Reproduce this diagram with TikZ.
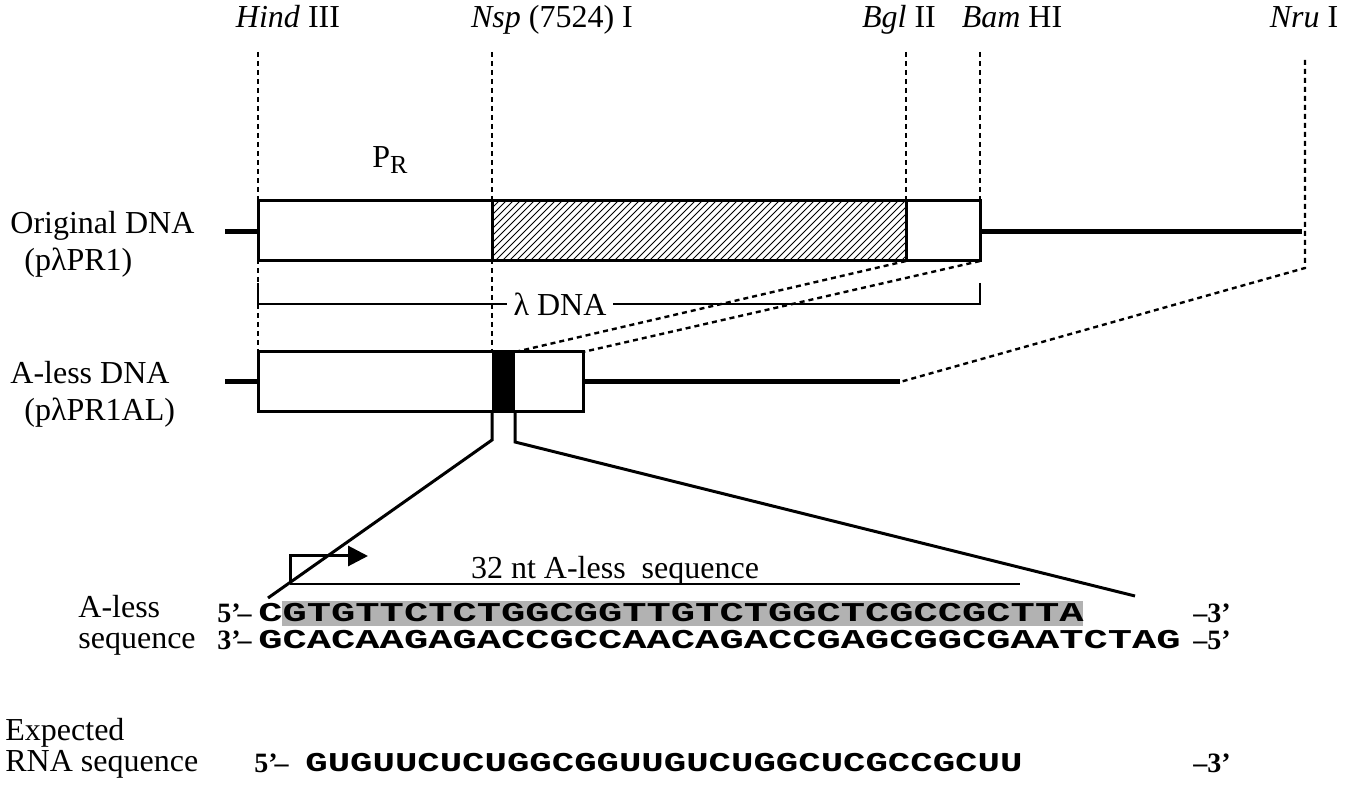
\documentclass[tikz,border=0pt]{standalone}
\usepackage{fontspec}
\setmainfont{Liberation Serif}
\newfontfamily\seqfont{Liberation Mono}
\usepackage{graphicx}
\usetikzlibrary{arrows.meta, positioning}

\tikzset{
    lab/.style={font=\fontsize{16}{18.5}\selectfont, inner sep=0pt},
    site/.style={lab, anchor=base},
    cut/.style={line width=1.2pt, dash pattern=on 2.5pt off 2pt},
    box/.style={draw, line width=1.5pt, fill=white},
    dna/.style={line width=2.5pt},
    zoomline/.style={line width=1.5pt},
    seq/.style={font=\fontsize{16}{16}\seqfont\bfseries, inner sep=0pt, anchor=west},
    ends/.style={font=\fontsize{14}{14}\selectfont\bfseries, inner sep=0pt, anchor=west},
}

\begin{document}
\begin{tikzpicture}[x=0.5pt, y=-0.5pt]
    \useasboundingbox (0,0) rectangle (1354,785);
    % restriction sites
    \node[site] (hind) at (288,28) {\textit{Hind} III};
    \node[site] (nsp) at (552,28) {\textit{Nsp} (7524) I};
    \node[site] (bgl) at (899,28) {\textit{Bgl} II};
    \node[site] (bam) at (1012,28) {\textit{Bam} HI};
    \node[site] (nru) at (1304,28) {\textit{Nru} I};
    \coordinate (hindT) at (258,52); \coordinate (hindB) at (258,352);
    \coordinate (nspT) at (492,52); \coordinate (nspB) at (492,352);
    \coordinate (bglT) at (906,52); \coordinate (bglB) at (906,261);
    \coordinate (bamT) at (980,52); \coordinate (bamB) at (980,261);
    \coordinate (nruT) at (1305,60); \coordinate (nruC) at (1305,268);
    \coordinate (blkT) at (515,352); \coordinate (alTR) at (583,352);
    \coordinate (alE) at (900,382);
    \draw[cut] (hindT) -- (hindB);
    \draw[cut] (nspT) -- (nspB);
    \draw[cut] (bglT) -- (bglB);
    \draw[cut] (bamT) -- (bamB);
    \draw[cut] (nruT) -- (nruC) -- (alE);
    \draw[cut] (bglB) -- (blkT);
    \draw[cut] (bamB) -- (alTR);

    % original DNA
    \draw[dna] (225,232) -- (258,232);
    \draw[dna] (980,232) -- (1302,232);
    \draw[box] (258,201) rectangle (980,261);
    \begin{scope}
        \clip (492,201) rectangle (906,261);
        \foreach \x in {432,439,...,906}
        \draw[line width=0.5pt] (\x,261) -- ++(60,-60);
    \end{scope}
    \draw[line width=1.5pt] (258,201) rectangle (980,261);
    \draw[line width=1.5pt] (492,201) -- (492,261) (906,201) -- (906,261);
    \node[lab] (pr) at (390,160) {P\raisebox{-0.35ex}{\fontsize{13}{13}\selectfont R}};
    \node[lab, align=left, anchor=west] (orig) at (10,244) {Original DNA\\\hspace*{7pt}(pλPR1)};

    % lambda DNA
    \node[lab, inner sep=3pt] (lam) at (560,304) {λ DNA};
    \draw[line width=1.2pt] (258,283) |- (lam.west);
    \draw[line width=1.2pt] (980,283) |- (lam.east);

    % A-less DNA
    \draw[dna] (225,382) -- (258,382);
    \draw[dna] (583,382) -- (alE);
    \draw[box] (258,352) rectangle (583,412);
    \fill (492,352) rectangle (515,412);
    \node[lab, align=left, anchor=west] (alab) at (10,394) {A-less DNA\\\hspace*{7pt}(pλPR1AL)};

    % blow-up
    \coordinate (tkL) at (492,440); \coordinate (tkR) at (515,442);
    \coordinate (zL) at (268,598); \coordinate (zR) at (1135,596);
    \draw[zoomline] (492,412) -- (tkL) -- (zL);
    \draw[zoomline] (515,412) -- (tkR) -- (zR);

    % sequence
    \fill[black!30] (282,601) rectangle (1083,626);
    \node[seq] (top) at (258,613) {\scalebox{1.264}[0.85]{CGTGTTCTCTGGCGGTTGTCTGGCTCGCCGCTTA}};
    \node[seq] (bot) at (258,640) {\scalebox{1.264}[0.85]{GCACAAGAGACCGCCAACAGACCGAGCGGCGAATCTAG}};
    \node[ends, left=3pt of top] (t5) {5'\kern-1.5pt–};
    \node[ends, left=3pt of bot] (b3) {3'\kern-1.5pt–};
    \node[ends] (t3) at (1193,613) {–3'};
    \node[ends] (b5) at (1193,640) {–5'};
    \node[lab, align=left, anchor=west, font=\fontsize{16}{15.5}\selectfont] (seqlab) at (78,625) {A-less\\sequence};

    \coordinate (tss) at (290,584); \coordinate (tssT) at (290,556);
    \coordinate (tip) at (368,556); \coordinate (ntE) at (1020,584);
    \draw[line width=1.5pt, -{Triangle[length=10pt, width=10pt]}] (tss) -- (tssT) -- (tip);
    \draw[line width=0.8pt] (tss) -- (ntE);
    \node[lab] (nt) at (615,571) {32 nt A-less\ \ sequence};

    % RNA
    \node[seq] (rna) at (305,763) {\scalebox{1.167}[0.85]{GUGUUCUCUGGCGGUUGUCUGGCUCGCCGCUU}};
    \node[ends, left=8pt of rna] (r5) {5'\kern-1.5pt–};
    \node[ends] (r3) at (1193,763) {–3'};
    \node[lab, align=left, anchor=west, font=\fontsize{16}{15.5}\selectfont] (rnalab) at (5,748) {Expected\\RNA sequence};
\end{tikzpicture}
\end{document}
